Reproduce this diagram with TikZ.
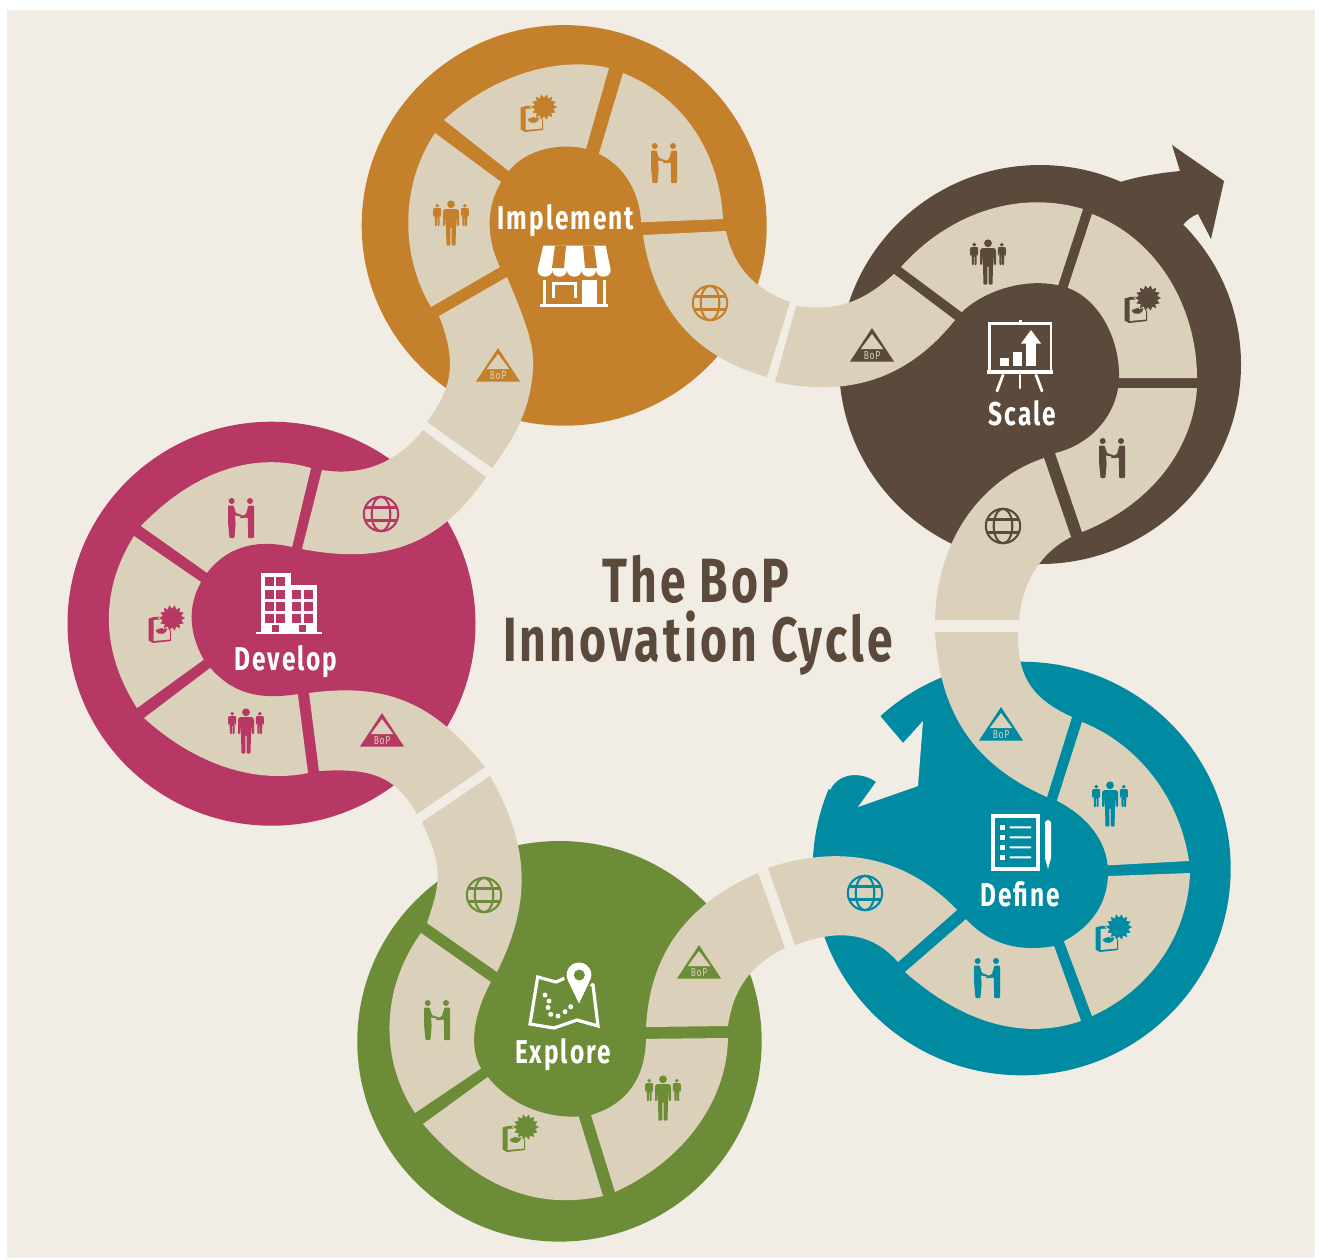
\documentclass[tikz,border=0pt]{standalone}
\usepackage{fontspec}
\setmainfont{Fira Sans}[FakeStretch=0.74,LetterSpace=6]
\definecolor{bgc}{HTML}{F1EDE5}
\definecolor{beigec}{HTML}{DBD1BA}
\definecolor{orangec}{HTML}{C4802B}
\definecolor{brownc}{HTML}{5B4A3C}
\definecolor{tealc}{HTML}{018BA3}
\definecolor{greenc}{HTML}{6C8C37}
\definecolor{rosec}{HTML}{B73864}
\tikzset{
  seg/.style={fill=beigec},
  wheel/.style={font=\fontsize{33}{33}\selectfont\bfseries\color{white},inner sep=0pt,anchor=base},
  title/.style={font=\fontsize{62.5}{62.5}\selectfont\bfseries\addfontfeature{LetterSpace=5}\color{brownc},inner sep=0pt,anchor=base},
  iconline/.style={line width=2.1pt,draw=#1,fill=none},
}
% person: centre of figure at origin
\newcommand\pperson{%
  \fill (0,-18.7) circle[radius=3.9];
  \fill[rounded corners=1pt] (-6.5,-14) -- (6.5,-14) -- (8,-12) -- (8,3) -- (5.9,3) -- (5.3,-7) -- (4.5,22.5) -- (0.6,22.5) -- (0.6,4) -- (-0.6,4) -- (-0.6,22.5) -- (-4.5,22.5) -- (-5.3,-7) -- (-5.9,3) -- (-8,3) -- (-8,-12) -- cycle;
}
\newcommand\ipeople[3]{\begin{scope}[shift={(#1,#2)},fill=#3]
  \pperson
  \begin{scope}[shift={(-13.8,-8)},scale=.5]\pperson\end{scope}
  \begin{scope}[shift={(13.8,-8)},scale=.5]\pperson\end{scope}
\end{scope}}
\newcommand\ihands[3]{\begin{scope}[shift={(#1,#2)},fill=#3]
  \fill (-9.3,-17) circle[radius=3];
  \fill (9,-17) circle[radius=3];
  \fill[rounded corners=.8pt] (-13,-12.5) -- (-7.5,-12.5) -- (-5,-5) -- (2,-2.5) -- (2,-0.8) -- (-6,-2.8) -- (-5.4,6) -- (-6.6,20) -- (-11.5,20) -- (-13,4) -- cycle;
  \fill[rounded corners=.8pt] (13,-12.5) -- (7.5,-12.5) -- (5,-4) -- (-1,-0.8) -- (-1,0.3) -- (6.8,-0.5) -- (7.2,20) -- (13,20) -- (13,2) -- cycle;
\end{scope}}
\newcommand\ipack[3]{\begin{scope}[shift={(#1,#2)}]
  \fill[#3] (-23.5,0.5) -- (-18,-1) -- (-1,-2) -- (-1,23) -- (-19,25) -- (-23.5,22.5) -- cycle;
  \fill[beigec] (-18.5,2) -- (-2.2,0.5) -- (-2.2,21.5) -- (-18.5,23) -- cycle;
  \fill[#3] (-16.5,12.5) .. controls (-13,10) and (-9,9.5) .. (-4.5,10.5) .. controls (-5,16) and (-13,18.5) .. (-16.5,12.5) -- cycle;
  \fill[beigec] plot[domain=0:28,samples=29] ({\x*12.857}:{14.3-3.6*mod(round(\x),2)}) -- cycle;
  \fill[#3] plot[domain=0:28,samples=29] ({\x*12.857}:{13-3.6*mod(round(\x),2)}) -- cycle;
\end{scope}}
\newcommand\iglobe[3]{\begin{scope}[shift={(#1,#2)}]
  \draw[iconline=#3] (0,0) circle[radius=17.2];
  \draw[iconline=#3] (0,0) ellipse[x radius=9.3,y radius=17.2];
  \draw[iconline=#3] (-15.8,-6.5) -- (15.8,-6.5);
  \draw[iconline=#3] (-15.8,6.5) -- (15.8,6.5);
\end{scope}}
\newcommand\ibop[3]{\begin{scope}[shift={(#1,#2)}]
  \fill[#3] (0,0) -- (22,33.5) -- (-22,33.5) -- cycle;
  \fill[beigec] (0,6) -- (11.2,21) -- (-11.2,21) -- cycle;
  \node[inner sep=0pt,anchor=base,font=\fontsize{11.5}{11.5}\selectfont,text=beigec] (bop#3) at (0,31) {BoP};
\end{scope}}
\begin{document}
\begin{tikzpicture}[x=1pt,y=-1pt]
\useasboundingbox (0,0) rectangle (1319,1259);
\fill[white] (0,0) rectangle (1319,1259);
\fill[bgc] (7,10) rectangle (1315,1258);
% discs
\fill[orangec] (564.2,225.4) ellipse[x radius=202.5,y radius=200.3];
\fill[brownc] (1040,364.5) ellipse[x radius=201,y radius=199.5];
\fill[brownc] (1120,182) .. controls (1140,176) and (1160,173) .. (1180,171) -- (1172,145) -- (1224,181) -- (1211,239) -- (1198,214) .. controls (1192,216) and (1187,220) .. (1183,225) -- (1150,300) -- cycle;
\fill[tealc] (1021.7,868.5) ellipse[x radius=209,y radius=206.8];
\fill[bgc] (881,717) -- (903,743) -- (923,721) -- (918,786) -- (858,807) -- (876,782) .. controls (865,773) and (840,770) .. (830,790) -- (805,760) -- (860,680) -- cycle;
\fill[greenc] (559.5,1041.3) ellipse[x radius=202.2,y radius=200.3];
\fill[rosec] (271.5,623.7) ellipse[x radius=204,y radius=202];
% sectors (their inner ends run under the hubs)
\fill[seg] (444,120) .. controls (490,78) and (555,55) .. (609,68) -- (582,163) -- (515,176) -- cycle;
\fill[seg] (623,73) .. controls (690,100) and (720,160) .. (723,219) -- (625,223) -- (595,167) -- cycle;
\fill[seg] (435,133) -- (512,190) -- (512,260) -- (431,307) .. controls (400,255) and (400,185) .. (435,133) -- cycle;
\fill[seg] (901,267) .. controls (950,212) and (1020,190) .. (1083,209) -- (1054,298) -- (975,322) -- cycle;
\fill[seg] (1092,214) .. controls (1160,240) and (1197,310) .. (1197,378) -- (1105,378) -- (1063,302) -- cycle;
\fill[seg] (1197,388) .. controls (1193,450) and (1150,505) .. (1082,532) -- (1050,438) -- (1105,388) -- cycle;
\fill[seg] (1082,722) .. controls (1140,745) and (1180,800) .. (1189,861) -- (1095,866) -- (1052,816) -- cycle;
\fill[seg] (1190,873) .. controls (1188,935) and (1150,990) .. (1092,1016) -- (1059,928) -- (1095,876.5) -- cycle;
\fill[seg] (1081,1021) .. controls (1025,1040) and (965,1025) .. (905,972) -- (980,907) -- (1049,932) -- cycle;
\fill[seg] (421,933) -- (505,992) -- (495,1059) -- (415,1113) .. controls (380,1060) and (380,990) .. (421,933) -- cycle;
\fill[seg] (423,1124) -- (500,1068) -- (575,1104) -- (603,1196) .. controls (540,1210) and (480,1190) .. (423,1124) -- cycle;
\fill[seg] (587,1102) -- (632,1039) -- (728,1038) .. controls (727,1100) and (685,1160) .. (615,1192) -- cycle;
\fill[seg] (141,526) .. controls (190,475) and (250,450) .. (311,468) -- (289,560) -- (220,582) -- cycle;
\fill[seg] (134,536) -- (214,591) -- (217,650) -- (137,708) .. controls (100,650) and (100,590) .. (134,536) -- cycle;
\fill[seg] (144,718) -- (222,659) -- (296,680) -- (308,773) .. controls (250,785) and (190,760) .. (144,718) -- cycle;
% hubs
\fill[orangec] (500,267) .. controls (485,235) and (485,200) .. (509,171) .. controls (525,150) and (560,142) .. (586,149) .. controls (625,160) and (640,195) .. (641,222) -- (645,250) -- (600,300) -- (530,300) -- cycle;
\fill[brownc] (1068,288) .. controls (1100,300) and (1120,340) .. (1119,378) .. controls (1118,415) and (1090,445) .. (1055,453) -- (1000,450) -- (950,400) -- (962,312) .. controls (985,290) and (1030,275) .. (1068,288) -- cycle;
\fill[tealc] (1057,801) .. controls (1085,815) and (1108,840) .. (1108,872) .. controls (1108,905) and (1090,930) .. (1054,946) .. controls (1020,952) and (990,945) .. (966,919) -- (950,870) -- (970,810) -- (1010,785) -- cycle;
\fill[greenc] (491,982) .. controls (468,1025) and (470,1060) .. (488,1077) .. controls (510,1105) and (550,1122) .. (591,1115) .. controls (630,1103) and (645,1075) .. (646,1039) -- (648,1000) -- (600,950) -- (530,950) -- cycle;
\fill[rosec] (298,694) .. controls (260,700) and (230,695) .. (204,660) .. controls (187,630) and (187,600) .. (207,573) .. controls (230,543) and (262,540) .. (292,547) -- (330,560) -- (340,620) -- (330,680) -- cycle;
% ribbons
\fill[seg] (643,235) -- (726,231) .. controls (733,265) and (752,288) .. (790,302) -- (767,377) .. controls (700,358) and (655,315) .. (643,235) -- cycle;
\fill[seg] (507,277) .. controls (525,320) and (535,345) .. (533,370) .. controls (530,410) and (515,437) .. (492,468) -- (427,422) .. controls (448,393) and (460,368) .. (439,316) -- cycle;
\fill[seg] (1044,458) .. controls (985,478) and (937,535) .. (935,620) -- (1019,620) .. controls (1022,583) and (1040,553) .. (1071,537) -- cycle;
\fill[seg] (796,306) .. controls (840,312) and (865,300) .. (894,274) -- (955,320) .. controls (915,370) and (860,400) .. (775,382) -- cycle;
\fill[seg] (935,632) .. controls (940,715) and (975,765) .. (1047,797) -- (1072,717) .. controls (1035,700) and (1017,680) .. (1018,632) -- cycle;
\fill[seg] (768,868) .. controls (830,847) and (900,850) .. (957,910) -- (898,962) .. controls (870,930) and (835,930) .. (795,945) -- cycle;
\fill[seg] (422,822) .. controls (442,865) and (442,880) .. (427,923) -- (497,972) .. controls (530,905) and (532,850) .. (490,776) -- cycle;
\fill[seg] (646,1027) .. controls (650,955) and (685,905) .. (758,873) -- (785,948) .. controls (750,965) and (733,990) .. (728,1026) -- cycle;
\fill[seg] (322,470) .. controls (360,476) and (395,465) .. (423,430) -- (486,477) .. controls (440,545) and (385,565) .. (302,549) -- cycle;
\fill[seg] (309,693) .. controls (390,682) and (435,705) .. (485,767) -- (417,814) .. controls (395,775) and (370,768) .. (319,771) -- cycle;
% icons
\ipeople{451}{223}{orangec}\ipack{544}{107}{orangec}\ihands{664}{163}{orangec}\iglobe{710}{303}{orangec}\ibop{498}{348}{orangec}
\ipeople{988}{262}{brownc}\ipack{1148}{298}{brownc}\ihands{1112}{458}{brownc}\iglobe{1003}{526}{brownc}\ibop{872}{328}{brownc}
\ipeople{1110}{804}{tealc}\ipack{1119}{927}{tealc}\ihands{987}{978}{tealc}\iglobe{865}{893}{tealc}\ibop{1001}{707}{tealc}
\ipeople{663}{1098}{greenc}\ipack{526}{1127}{greenc}\ihands{437}{1020}{greenc}\iglobe{484}{895}{greenc}\ibop{699}{945}{greenc}
\ipeople{246}{731}{rosec}\ipack{172}{618}{rosec}\ihands{241}{518}{rosec}\iglobe{381}{514}{rosec}\ibop{382}{713}{rosec}
% store icon
\fill[white] (543.3,245.7) -- (605.7,245.7) -- (610.7,270) arc[start angle=0,end angle=180,x radius=7.3,y radius=6.7] arc[start angle=0,end angle=180,x radius=7.3,y radius=6.7] arc[start angle=0,end angle=180,x radius=7.3,y radius=6.7] arc[start angle=0,end angle=180,x radius=7.3,y radius=6.7] arc[start angle=0,end angle=180,x radius=7.4,y radius=6.7] -- cycle;
\fill[orangec] (555,245.7) -- (566,245.7) -- (564,268) -- (552,268) -- cycle;
\fill[orangec] (583,245.7) -- (594,245.7) -- (597,268) -- (585,268) -- cycle;
\fill[white] (543.3,280) rectangle (545.7,305);
\fill[white] (603.3,280) rectangle (605.7,305);
\fill[white] (540,304) rectangle (608.3,306.7);
\fill[white] (581.7,280) rectangle (596.7,305);
\draw[white,line width=2.6pt] (553.3,298.3) -- (553.3,283.7) -- (575.7,283.7) -- (575.7,298.3);
% easel icon
\draw[white,line width=2.8pt] (989.5,323.5) rectangle (1051,371);
\fill[white] (987,370) rectangle (1053,373.5);
\fill[white] (1018.5,319.5) rectangle (1021.5,323);
\draw[white,line width=2.8pt,line cap=round] (1003,375) -- (997,391);
\draw[white,line width=2.8pt,line cap=round] (1020,375) -- (1020,388);
\draw[white,line width=2.8pt,line cap=round] (1036,375) -- (1042,391);
\fill[white] (1000,358.3) rectangle (1009.3,365.7);
\fill[white] (1012.7,351.7) rectangle (1022.3,365.7);
\fill[white] (1026,343.3) rectangle (1036,365.7);
\fill[white] (1031,330) -- (1041,343.5) -- (1021,343.5) -- cycle;
% checklist icon
\draw[white,line width=4pt] (993,816) rectangle (1038,869);
\foreach \yy in {827.3,837.3,847.3,857.3}{
  \fill[white] (1000,\yy-2.5) rectangle (1005,\yy+2.5);
  \fill[white,rounded corners=.5pt] (1009.5,\yy-1) rectangle (1031,\yy+1);
}
\fill[white] (1045,823) arc[start angle=180,end angle=360,radius=3] -- (1051,858) -- (1048,869) -- (1045,858) -- cycle;
% building icon
\fill[white] (260.7,573.3) rectangle (291,632);
\fill[white] (291,585) rectangle (317.3,632);
\fill[white] (255.7,631.7) rectangle (322,633.7);
\foreach \cx/\cy in {265/577.3,276/577.3,265/590,276/590,265/602,276/602,265/614,276/614,291.7/590,304/590,291.7/602,304/602,291.7/614,304/614}{
  \fill[rosec] (\cx,\cy) rectangle +(9.2,9);
}
\fill[rosec] (272.3,625) rectangle +(6.6,6.7);
\fill[rosec] (298.7,625) rectangle +(6.9,6.7);
% map icon
\draw[white,line width=3.2pt,line join=miter] (537.7,977) -- (556,982) -- (565,978) -- (575,980) -- (593,985) -- (598,1026) -- (577,1020) -- (554,1028) -- (530,1024) -- cycle;
\fill[greenc] (579,975) circle[radius=15];
\fill[white] (579,1003.5) -- (568.2,981) arc[start angle=150,end angle=390,radius=12.4] -- cycle;
\fill[greenc] (579.3,975) circle[radius=5.5];
\foreach \dx/\dy in {545/995,549/1001,548/1007.5,550.7/1014.3,558/1016,565/1011.7,570.7/1006.7}{
  \fill[white] (\dx,\dy) circle[radius=2.5];
}
% labels
\node[wheel] (implement) at (566,229) {Implement};
\node[wheel] (scale) at (1022.5,425) {Scale};
\node[wheel] (define) at (1020,906) {Define};
\node[wheel] (explore) at (563,1063) {Explore};
\node[wheel] (develop) at (286,670) {Develop};
\node[title] (titlea) at (696,602) {The BoP};
\node[title] (titleb) at (698,661) {Innovation Cycle};
\end{tikzpicture}
\end{document}
